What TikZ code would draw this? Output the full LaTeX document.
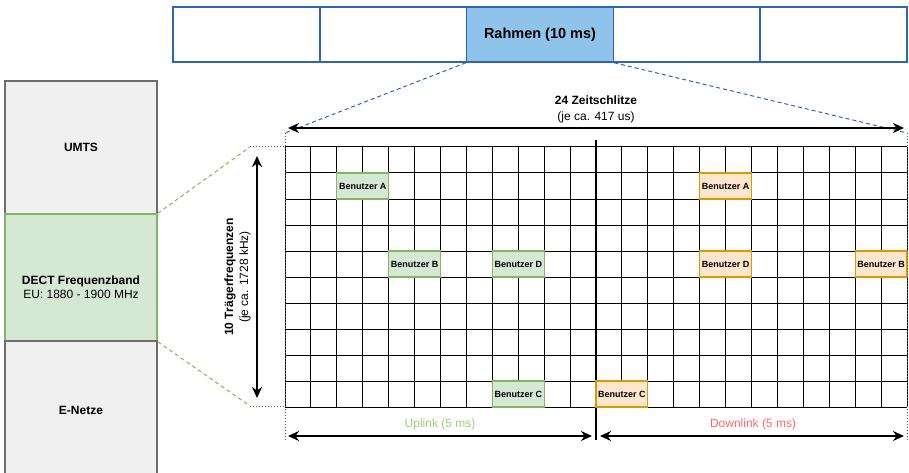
\documentclass[tikz,border=0pt]{standalone}
\usepackage{fontspec}
\setmainfont{Liberation Sans}
\usepackage{tikz}
\usetikzlibrary{arrows.meta, positioning}
\definecolor{framestroke}{RGB}{45, 100, 185}
\definecolor{rahmenfill}{RGB}{143, 195, 234}
\definecolor{bandstroke}{RGB}{110, 110, 110}
\definecolor{bandfill}{RGB}{240, 240, 240}
\definecolor{dectstroke}{RGB}{130, 179, 102}
\definecolor{dectfill}{RGB}{213, 232, 212}
\definecolor{dlstroke}{RGB}{215, 155, 0}
\definecolor{dlfill}{RGB}{255, 230, 204}
\definecolor{upgreen}{RGB}{151, 208, 119}
\definecolor{downred}{RGB}{255, 102, 102}
\definecolor{guidegray}{RGB}{90, 90, 90}

\begin{document}
\begin{tikzpicture}[x=1pt, y=-1pt,
  framebox/.style={draw=framestroke, line width=1.5pt, fill=white, minimum width=146.8pt, minimum height=55pt, inner sep=0pt},
  rahmenbox/.style={framebox, fill=rahmenfill, font=\fontsize{14.5}{16}\selectfont\bfseries},
  bandbox/.style={draw=bandstroke, line width=1.5pt, fill=bandfill, minimum width=152pt, inner sep=0pt},
  dectbox/.style={bandbox, draw=dectstroke, fill=dectfill},
  ulbox/.style={draw=dectstroke, fill=dectfill, line width=1.2pt, minimum width=51.8pt, minimum height=26pt, inner sep=0pt, font=\fontsize{9}{10}\selectfont\bfseries},
  dlbox/.style={ulbox, draw=dlstroke, fill=dlfill},
  gridline/.style={black, line width=1pt},
  dimarrow/.style={{Stealth[length=11pt, width=10pt]}-{Stealth[length=11pt, width=10pt]}, line width=2.5pt},
  guide/.style={dotted, guidegray, line width=1pt},
  zoomblue/.style={dash pattern=on 4pt off 3pt, framestroke, line width=1pt},
  zoomgreen/.style={dash pattern=on 4pt off 3pt, dectstroke, line width=1pt},
  lbl/.style={font=\fontsize{12}{14}\selectfont, inner sep=0pt}
]
\useasboundingbox (0,0) rectangle (909,473);

% Frame row
\node[framebox] (f1) at (246.4, 34.5) {};
\node[framebox] (f2) at (393.2, 34.5) {};
\node[rahmenbox] (rahmen) at (540, 34.5) {Rahmen (10 ms)};
\node[framebox] (f4) at (686.8, 34.5) {};
\node[framebox] (f5) at (833.6, 34.5) {};

% Frequency bands
\node[bandbox, minimum height=133pt] (umts) at (81, 147.5) {};
\node[lbl, font=\fontsize{12}{14}\selectfont\bfseries] (umtsText) at (umts) {UMTS};
\node[dectbox, minimum height=127pt] (dect) at (81, 277.5) {};
\node[lbl, align=center] (dectText) at (81, 287) {\textbf{DECT Frequenzband}\\EU: 1880 - 1900 MHz};
\node[bandbox, minimum height=139pt] (enetze) at (81, 410.5) {};
\node[lbl, font=\fontsize{12}{14}\selectfont\bfseries] (enetzeText) at (enetze) {E-Netze};

% Time slot grid
\foreach \i in {0,...,24}
  \draw[gridline] ({285+\i*622/24}, 147) -- ++(0, 260);
\foreach \j in {0,...,10}
  \draw[gridline] (285, {147+\j*26}) -- (907, {147+\j*26});
\draw[line width=2pt] (596, 140) -- (596, 440);

% Users
\node[ulbox] (ulA) at (362.75, 186) {Benutzer A};
\node[ulbox] (ulB) at (414.6, 264) {Benutzer B};
\node[ulbox] (ulD) at (518.3, 264) {Benutzer D};
\node[ulbox] (ulC) at (518.3, 394) {Benutzer C};
\node[dlbox] (dlA) at (725.6, 186) {Benutzer A};
\node[dlbox] (dlD) at (725.6, 264) {Benutzer D};
\node[dlbox] (dlB) at (881.1, 264) {Benutzer B};
\node[dlbox] (dlC) at (621.9, 394) {Benutzer C};

% Zoom guides
\coordinate (zoomL) at (285, 133);
\coordinate (zoomR) at (907, 133);
\coordinate (bandT) at (250, 147);
\coordinate (bandB) at (250, 406);
\draw[zoomblue] (rahmen.south west) -- (zoomL);
\draw[zoomblue] (rahmen.south east) -- (zoomR);
\draw[guide] (zoomL) -- (285, 440);
\draw[guide] (zoomR) -- (907, 440);
\draw[zoomgreen] (dect.north east) -- (bandT);
\draw[zoomgreen] (dect.south east) -- (bandB);
\draw[guide] (bandT) -- (285, 147);
\draw[guide] (bandB) -- (285, 406);

% Dimension arrows
\coordinate (slotsL) at (288, 128);
\coordinate (slotsR) at (904, 128);
\coordinate (carrT) at (257, 156);
\coordinate (carrB) at (257, 398);
\coordinate (upL) at (288, 436);
\coordinate (upR) at (592, 436);
\coordinate (downL) at (600, 436);
\coordinate (downR) at (904, 436);
\draw[dimarrow] (slotsL) -- (slotsR);
\draw[dimarrow] (carrT) -- (carrB);
\draw[dimarrow] (upL) -- (upR);
\draw[dimarrow] (downL) -- (downR);

% Labels
\node[lbl, font=\fontsize{12}{14}\selectfont\bfseries] (slotsText) at (596, 100) {24 Zeitschlitze};
\node[lbl] (slotsSub) at (596, 117) {(je ca. 417 us)};
\node[lbl, rotate=90, font=\fontsize{12}{14}\selectfont\bfseries] (carrText) at (230, 277) {10 Trägerfrequenzen};
\node[lbl, rotate=90] (carrSub) at (245, 277) {(je ca. 1728 kHz)};
\node[lbl, text=upgreen] (upText) at (440, 424) {Uplink (5 ms)};
\node[lbl, text=downred] (downText) at (753, 424) {Downlink (5 ms)};

\end{tikzpicture}
\end{document}
